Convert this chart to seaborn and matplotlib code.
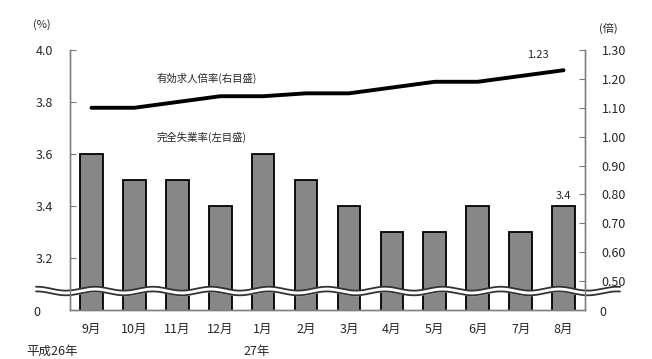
import numpy as np
import pandas as pd
import matplotlib
matplotlib.use("Agg")
import matplotlib.pyplot as plt
import seaborn as sns

# データ
months = ["9月", "10月", "11月", "12月", "1月", "2月", "3月", "4月", "5月", "6月", "7月", "8月"]
unemployment = [3.6, 3.5, 3.5, 3.4, 3.6, 3.5, 3.4, 3.3, 3.3, 3.4, 3.3, 3.4]
job_ratio = [1.10, 1.10, 1.12, 1.14, 1.14, 1.15, 1.15, 1.17, 1.19, 1.19, 1.21, 1.23]
left_ticks = [3.2, 3.4, 3.6, 3.8, 4.0]
right_ticks = [0.5, 0.6, 0.7, 0.8, 0.9, 1.0, 1.1, 1.2, 1.3]

sns.set_style("white")
plt.rcParams["font.family"] = ["Noto Sans CJK JP", "DejaVu Sans"]

df = pd.DataFrame({"month": months, "rate": unemployment, "ratio": job_ratio})
df["pos"] = np.arange(len(df))

fig = plt.figure(figsize=(6.52, 3.59), dpi=100)
ax = fig.add_axes([70 / 652, 49 / 359, 515 / 652, 260 / 359])

sns.barplot(data=df, x="month", y="rate", ax=ax, color="#878787", saturation=1,
            width=0.53, edgecolor="black", linewidth=1.3)
ax.set_ylim(3.0, 4.0)
ax.set_xlim(-0.5, len(months) - 0.5)
ax.set_yticks(left_ticks)
ax.set_yticklabels([f"{v:.1f}" for v in left_ticks], fontsize=9)
ax.set_xlabel("")
ax.set_ylabel("")
ax.tick_params(axis="x", length=0, pad=9, labelsize=9)
ax.tick_params(axis="y", direction="in", length=4, color="#777777", pad=12)

ax2 = ax.twinx()
sns.lineplot(data=df, x="pos", y="ratio", ax=ax2, color="black", linewidth=2.8)
ax2.set_ylim(0.4, 1.3)
ax2.set_yticks(right_ticks)
ax2.set_yticklabels([f"{v:.2f}" for v in right_ticks], fontsize=9)
ax2.set_ylabel("")
ax2.set_xlabel("")
ax2.tick_params(axis="y", direction="in", length=4, color="#777777", pad=12)

for a in (ax, ax2):
    a.spines["top"].set_visible(False)
    for s in ("left", "right", "bottom"):
        a.spines[s].set_color("#808080")
        a.spines[s].set_linewidth(1)

# 省略記号（波線）
xs = np.linspace(-0.066, 1.068, 500)
wave = 0.0075 * np.sin(2 * np.pi * (xs - 0.161) / 0.1126 + np.pi / 2)
y0 = 0.073
ax.fill_between(xs, y0 + wave - 0.008, y0 + wave + 0.008, transform=ax.transAxes,
                color="white", clip_on=False, zorder=5)
ax.plot(xs, y0 + wave + 0.009, transform=ax.transAxes, color="#333333", lw=1.3,
        clip_on=False, zorder=6)
ax.plot(xs, y0 + wave - 0.009, transform=ax.transAxes, color="#333333", lw=1.3,
        clip_on=False, zorder=6)

# テキスト
fig.text(42 / 652, 1 - 25 / 359, "(%)", fontsize=8, ha="center", va="center")
fig.text(608 / 652, 1 - 28 / 359, "(倍)", fontsize=8, ha="center", va="center")
fig.text(37 / 652, 1 - 313 / 359, "0", fontsize=9, ha="center", va="center")
fig.text(603 / 652, 1 - 313 / 359, "0", fontsize=9, ha="center", va="center")
fig.text(26 / 652, 1 - 351 / 359, "平成26年", fontsize=9, ha="left", va="center")
ax.text(3.85, -0.16, "27年", transform=ax.get_xaxis_transform(), fontsize=9,
        ha="center", va="center")
ax.text(0.169, 0.892, "有効求人倍率(右目盛)", transform=ax.transAxes,
        fontsize=7.5, ha="left", va="center")
ax.text(0.169, 0.665, "完全失業率(左目盛)", transform=ax.transAxes,
        fontsize=7.5, ha="left", va="center")
ax2.text(df["pos"].iloc[-1] - 0.6, job_ratio[-1] + 0.035, f"{job_ratio[-1]:.2f}",
         fontsize=8, ha="center", va="bottom")
ax.text(df["pos"].iloc[-1], unemployment[-1] + 0.02, f"{unemployment[-1]:.1f}",
        fontsize=8, ha="center", va="bottom", zorder=7)

fig.savefig("out.png", dpi=100)
